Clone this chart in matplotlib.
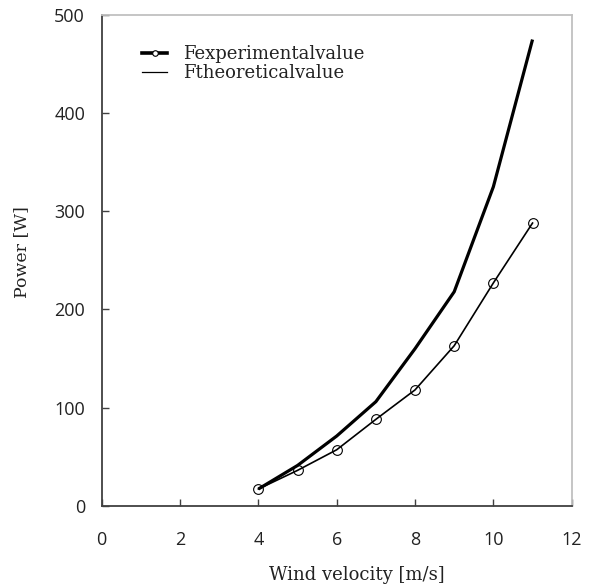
import matplotlib
matplotlib.use("Agg")
import matplotlib.pyplot as plt
from matplotlib.lines import Line2D

# Data
wind_velocity = [4, 5, 6, 7, 8, 9, 10, 11]
power_experimental = [17, 36, 57, 88, 118, 163, 227, 288]
power_theoretical = [17, 41, 71, 106, 160, 218, 325, 475]
legend_labels = ["Fexperimentalvalue", "Ftheoreticalvalue"]
x_ticks = [0, 2, 4, 6, 8, 10, 12]
y_ticks = [0, 100, 200, 300, 400, 500]

fig = plt.figure(figsize=(5.9, 5.85), dpi=100)
ax = fig.add_axes([101.7 / 590, 1 - 505.7 / 585, 470 / 590, 490.7 / 585])

ax.plot(wind_velocity, power_theoretical, color="black", lw=2.3,
        solid_capstyle="butt", solid_joinstyle="round", zorder=3)
ax.plot(wind_velocity, power_experimental, color="black", lw=1.2,
        marker="o", markersize=7, markerfacecolor="none",
        markeredgecolor="black", markeredgewidth=0.8, zorder=3)

ax.set_xlim(0, 12)
ax.set_ylim(0, 500)
ax.set_xticks(x_ticks)
ax.set_yticks(y_ticks)

tick_font = dict(family="Open Sans", size=13)
ax.set_xticklabels([str(v) for v in x_ticks], **tick_font, color="#222222")
ax.set_yticklabels([str(v) for v in y_ticks], **tick_font, color="#222222")
ax.tick_params(axis="both", direction="in", length=5, width=1.0, color="#404040")
ax.tick_params(axis="x", pad=18.5)
ax.tick_params(axis="y", pad=12)

for side in ("left", "bottom"):
    ax.spines[side].set_color("#404040")
    ax.spines[side].set_linewidth(1.3)
for side in ("top", "right"):
    ax.spines[side].set_color("#c0c0c0")
    ax.spines[side].set_linewidth(1.3)

label_font = dict(family="DejaVu Serif", size=13, color="#222222")
ax.set_xlabel("Wind velocity [m/s]", **label_font)
ax.set_ylabel("Power [W]", **dict(label_font, size=12.5))
ax.xaxis.set_label_coords(0.5426, -0.141)
ax.yaxis.set_label_coords(-0.170, 0.516)
ax.xaxis.label.set_va("center")
ax.yaxis.label.set_va("center")

handles = [
    Line2D([], [], color="black", lw=2.6, marker="o", markersize=4,
           markerfacecolor="white", markeredgecolor="black", markeredgewidth=0.8),
    Line2D([], [], color="black", lw=0.9),
]
leg = ax.legend(handles, legend_labels, loc="upper left",
                bbox_to_anchor=(142 / 590, 1 - 45 / 585),
                bbox_transform=fig.transFigure, frameon=False,
                borderpad=0, borderaxespad=0, handlelength=1.4,
                handletextpad=0.9, labelspacing=0.05,
                prop=dict(family="DejaVu Serif", size=13))
for t in leg.get_texts():
    t.set_color("#222222")

fig.savefig("out.png", dpi=100)
